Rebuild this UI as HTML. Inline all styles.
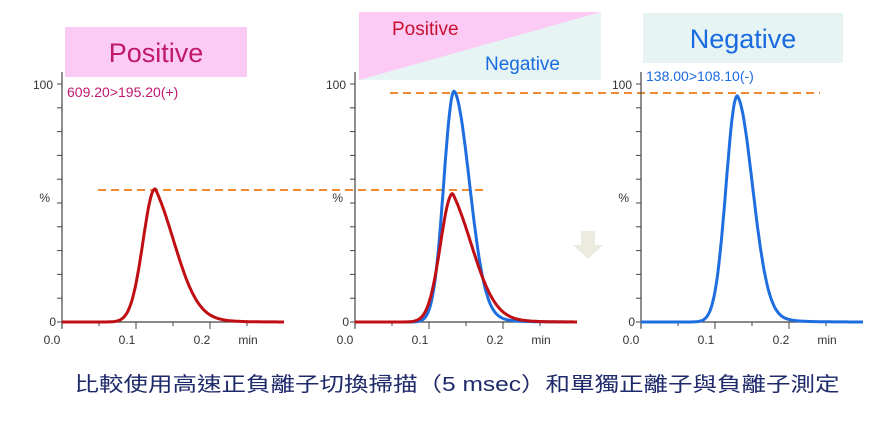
<!DOCTYPE html>
<html><head><meta charset="utf-8"><style>
body{margin:0;background:#fff;}
svg{display:block;font-family:"Liberation Sans",sans-serif;}
</style></head><body>
<svg id="s" width="879" height="421" viewBox="0 0 879 421">
<rect width="879" height="421" fill="#fff"/>
<rect x="65" y="27" width="182" height="50" fill="#fccbf5"/>
<text x="156" y="62" font-size="27" fill="#c0186e" text-anchor="middle">Positive</text>
<rect x="359" y="12" width="242" height="68" fill="#e6f4f4"/>
<polygon points="359,12 601,12 359,80" fill="#fccbf5"/>
<text x="392" y="35" font-size="19" fill="#c8102e">Positive</text>
<text x="485" y="70" font-size="19" fill="#1a6ae0">Negative</text>
<rect x="643" y="13" width="200" height="50" fill="#e6f4f4"/>
<text x="743" y="48" font-size="27" fill="#1a6ae0" text-anchor="middle">Negative</text>
<line x1="98" y1="190" x2="483" y2="190" stroke="#f08a30" stroke-width="2" stroke-dasharray="8,5"/>
<line x1="390" y1="93" x2="820" y2="93" stroke="#f08a30" stroke-width="2" stroke-dasharray="8,5"/>
<polygon points="581,231 595,231 595,245 603,245 588,259 573,245 581,245" fill="#ecebe0"/>
<text x="67" y="97" font-size="14" fill="#c0186e">609.20&gt;195.20(+)</text>
<text x="646" y="81" font-size="14" fill="#1a6ae0">138.00&gt;108.10(-)</text>
<g id="axes"></g>
<g id="curves"></g>
<text x="457" y="391" font-size="20" fill="#1f2a6b" text-anchor="middle" textLength="765" lengthAdjust="spacingAndGlyphs" font-family="'Liberation Sans','Noto Sans CJK TC',sans-serif">比較使用高速正負離子切換掃描（5 msec）和單獨正離子與負離子測定</text>
</svg>
<script>
var NS="http://www.w3.org/2000/svg";
function el(p,t,a,txt){var e=document.createElementNS(NS,t);for(var k in a)e.setAttribute(k,a[k]);if(txt)e.textContent=txt;p.appendChild(e);return e;}
var ax=document.getElementById("axes"),cv=document.getElementById("curves");
var Y0=322,Y100=84,S=740,TE=0.30;
function axis(x0){
 el(ax,"line",{x1:x0,y1:72,x2:x0,y2:Y0+6,stroke:"#444","stroke-width":1.2});
 el(ax,"line",{x1:x0,y1:Y0,x2:x0+S*TE,y2:Y0,stroke:"#444","stroke-width":1.2});
 for(var i=0;i<=10;i++){var y=Y0-(Y0-Y100)*i/10;el(ax,"line",{x1:x0-5,y1:y,x2:x0,y2:y,stroke:"#444","stroke-width":1});}
 for(var j=0;j<=5;j++){var x=x0+37*j;el(ax,"line",{x1:x,y1:Y0,x2:x,y2:Y0+(j%2==0?7:4),stroke:"#444","stroke-width":1});}
 var st={"font-size":12,fill:"#333"};
 function t(x,y,s,anc){var a=Object.assign({x:x,y:y,"text-anchor":anc||"middle"},st);el(ax,"text",a,s);}
 t(x0-9,Y100+5,"100","end");t(x0-12,Y0-120,"%","end");t(x0-6,Y0+4,"0","end");
 t(x0-10,Y0+22,"0.0");t(x0+65,Y0+22,"0.1");t(x0+140,Y0+22,"0.2");t(x0+186,Y0+22,"min");
}
function curve(x0,tp,h,sl,sr,tail,col){
 var d="";
 for(var i=0;i<=240;i++){var t=TE*i/240,v;
  if(t<tp)v=Math.exp(-Math.pow((t-tp)/sl,2)/2);
  else{var z=(t-tp);v=(1-tail)*Math.exp(-Math.pow(z/sr,2)/2)+tail*Math.exp(-z/0.03)*Math.exp(-Math.pow(z/0.1,2)/2);}
  var x=x0+t*S,y=Y0-(Y0-Y100)*h/100*v;
  d+=(i?"L":"M")+x.toFixed(1)+","+y.toFixed(1);}
 el(cv,"path",{d:d,fill:"none",stroke:col,"stroke-width":3,"stroke-linejoin":"round"});
}
axis(62);axis(355);axis(641);
curve(62,0.126,56,0.0165,0.03,0.35,"#c00f14");
curve(355,0.134,97,0.014,0.021,0.1,"#1f6ee0");
curve(355,0.132,54,0.0165,0.03,0.35,"#c00f14");
curve(641,0.13,95,0.015,0.021,0.1,"#1f6ee0");
</script>
</body></html>
